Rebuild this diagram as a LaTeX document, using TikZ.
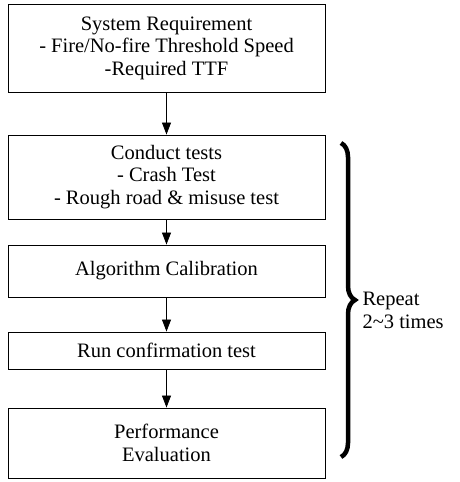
\documentclass[tikz,border=0pt]{standalone}
\usepackage{fontspec}
\setmainfont{Liberation Serif}
\usetikzlibrary{positioning, arrows.meta, decorations.pathreplacing}

\tikzset{
  stepbox/.style={draw, line width=0.9pt, minimum width=317pt, inner sep=2pt, align=center,
    font=\fontsize{20.5}{22.5}\selectfont},
  flow/.style={line width=0.9pt, -{Triangle[length=12pt, width=9pt]}},
}

\begin{document}
\begin{tikzpicture}[x=1pt, y=1pt]
\useasboundingbox (0, 0) rectangle (460, 482);

\node [stepbox, minimum height=88pt] (sysreq) at (166.5, 434) {System Requirement\\- Fire/No-fire Threshold Speed\\-Required TTF};
\node [stepbox, minimum height=84pt] (tests) at (166.5, 305) {Conduct tests\\- Crash Test\\- Rough road \& misuse test};
\node [stepbox, minimum height=52pt] (calib) at (166.5, 211) {Algorithm Calibration};
\node [stepbox, minimum height=37pt] (confirm) at (166.5, 131.5) {Run confirmation test};
\node [stepbox, minimum height=70pt] (perf) at (166.5, 39) {Performance\\Evaluation};

\draw [flow] (sysreq) -- (tests);
\draw [flow] (tests) -- (calib);
\draw [flow] (calib) -- (confirm);
\draw [flow] (confirm) -- (perf);

\coordinate (bracetop) at (341, 339);
\coordinate (bracebot) at (341, 25);
\draw [line width=4.5pt, decorate, decoration={brace, amplitude=14pt}] (bracetop) -- (bracebot);
\node [anchor=west, align=left, font=\fontsize{20.5}{23}\selectfont] (repeat) at (359, 172) {Repeat\\2\textasciitilde3 times};

\end{tikzpicture}
\end{document}
